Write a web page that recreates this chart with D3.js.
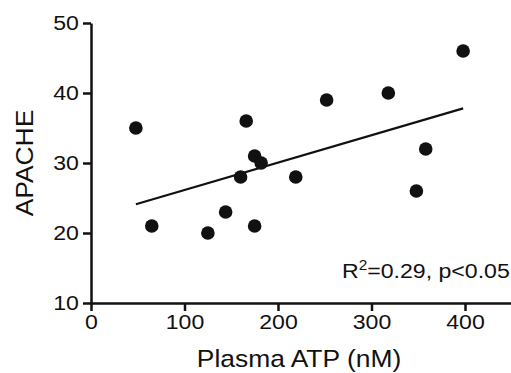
<!DOCTYPE html>
<html>
<head>
<meta charset="utf-8">
<script src="https://cdn.jsdelivr.net/npm/d3@7"></script>
<style>
  html, body { margin: 0; padding: 0; background: #fff; }
  svg { display: block; font-family: "Liberation Sans", Arial, sans-serif; }
</style>
</head>
<body>
<script>
// Data
const atp    = [48, 65, 125, 144, 166, 160, 175, 182, 175, 219, 252, 318, 348, 358, 398];
const apache = [35, 21,  20,  23,  36,  28,  31,  30,  21,  28,  39,  40,  26,  32,  46];
const xTicks = [0, 100, 200, 300, 400];
const yTicks = [10, 20, 30, 40, 50];
const xTitle = "Plasma ATP (nM)";
const yTitle = "APACHE";
const statText = ["R", "2", "=0.29, p<0.05"];

const W = 511, H = 373;
const svg = d3.select("body").append("svg").attr("width", W).attr("height", H);

const x = d3.scaleLinear().domain([0, 450]).range([91, 511.75]);
const y = d3.scaleLinear().domain([10, 50]).range([303, 23]);
const ink = "#111";
const stretch = 1.1;

// X axis
const gx = svg.append("g").attr("transform", `translate(0,${y(10)})`)
  .call(d3.axisBottom(x).tickValues(xTicks).tickSize(8).tickSizeOuter(0).tickPadding(3));
gx.select(".domain").attr("stroke", ink).attr("stroke-width", 2.5);
gx.selectAll(".tick line").attr("stroke", ink).attr("stroke-width", 2.5);
gx.selectAll(".tick text").attr("fill", ink).attr("font-size", 21)
  .attr("font-family", "Liberation Sans, Arial, sans-serif")
  .attr("transform", `scale(${stretch},1)`);

// Y axis
const gy = svg.append("g").attr("transform", `translate(${x(0)},0)`)
  .call(d3.axisLeft(y).tickValues(yTicks).tickSize(8).tickSizeOuter(0).tickPadding(3));
gy.select(".domain").attr("stroke", ink).attr("stroke-width", 2.5);
gy.selectAll(".tick line").attr("stroke", ink).attr("stroke-width", 2.5);
gy.selectAll(".tick text").attr("fill", ink).attr("font-size", 21)
  .attr("font-family", "Liberation Sans, Arial, sans-serif")
  .attr("transform", `scale(${stretch},1)`);

// Axis titles
svg.append("text")
  .attr("transform", `translate(299,367) scale(${stretch},1)`)
  .attr("text-anchor", "middle").attr("font-size", 24).attr("fill", ink)
  .text(xTitle);
svg.append("text")
  .attr("transform", `translate(33,163) rotate(-90) scale(${stretch},1)`)
  .attr("text-anchor", "middle").attr("font-size", 24).attr("fill", ink)
  .text(yTitle);

// Linear regression computed from the data
const data = atp.map((v, i) => ({ x: v, y: apache[i] }));
const mx = d3.mean(atp), my = d3.mean(apache);
const slope = d3.sum(data, d => (d.x - mx) * (d.y - my)) / d3.sum(data, d => (d.x - mx) ** 2);
const icpt = my - slope * mx;
const [x0, x1] = d3.extent(atp);
svg.append("line")
  .attr("x1", x(x0)).attr("y1", y(icpt + slope * x0))
  .attr("x2", x(x1)).attr("y2", y(icpt + slope * x1))
  .attr("stroke", ink).attr("stroke-width", 2.2);

// Points
svg.append("g").selectAll("circle").data(data).join("circle")
  .attr("cx", d => x(d.x)).attr("cy", d => y(d.y)).attr("r", 6.8)
  .attr("fill", ink);

// Stats annotation
const st = svg.append("text")
  .attr("transform", `translate(342,278) scale(${stretch},1)`)
  .attr("font-size", 21).attr("fill", ink);
st.append("tspan").text(statText[0]);
st.append("tspan").attr("font-size", 14).attr("dy", -8).text(statText[1]);
st.append("tspan").attr("dy", 8).text(statText[2]);
</script>
</body>
</html>
